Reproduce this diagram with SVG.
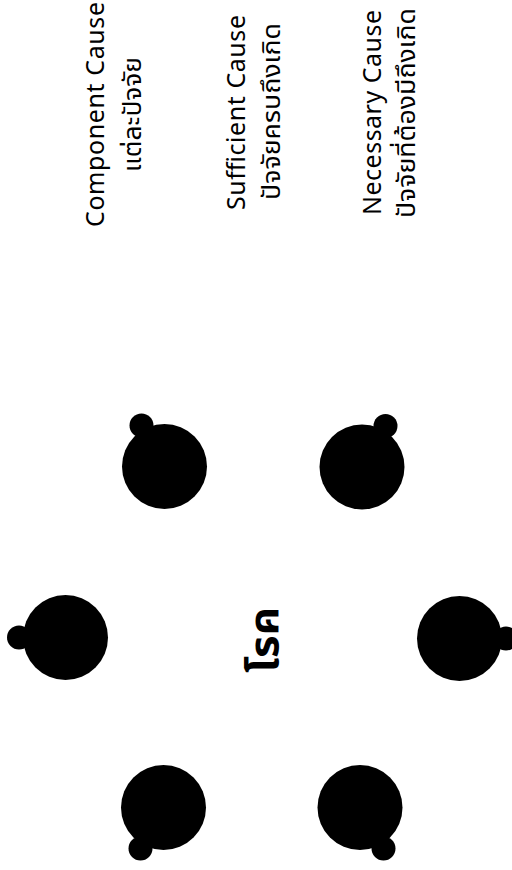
<svg xmlns="http://www.w3.org/2000/svg" width="512" height="870" viewBox="0 0 512 870">
<style>
.blob{fill:#000}
.lbl{font-family:"Noto Sans","Noto Sans Thai","Open Sans",sans-serif;font-size:25px;fill:#000;text-anchor:middle}
.core{font-family:"Noto Sans","Noto Sans Thai",sans-serif;font-size:41px;font-weight:bold;fill:#000;text-anchor:middle}
</style>
<rect width="512" height="870" fill="#fff"/>
<g transform="translate(0,870) rotate(-90)">
<g id="cause-top">
<circle class="blob" cx="232.5" cy="65.5" r="42.5"/><circle class="blob" cx="232.5" cy="19" r="12"/>
</g>
<g id="cause-top-right">
<circle class="blob" cx="403.5" cy="164.5" r="42.5"/><circle class="blob" cx="444.5" cy="141.5" r="12"/>
</g>
<g id="cause-bottom-right">
<circle class="blob" cx="403" cy="362" r="42.5"/><circle class="blob" cx="444" cy="385.5" r="12"/>
</g>
<g id="cause-bottom">
<circle class="blob" cx="231.5" cy="459.5" r="42.5"/><circle class="blob" cx="231.5" cy="506" r="12"/>
</g>
<g id="cause-bottom-left">
<circle class="blob" cx="62.5" cy="360" r="42.5"/><circle class="blob" cx="21.5" cy="383.5" r="12"/>
</g>
<g id="cause-top-left">
<circle class="blob" cx="62.5" cy="163.5" r="42.5"/><circle class="blob" cx="21.5" cy="140.5" r="12"/>
</g>
<g id="disease">
<text class="core" x="230" y="278" textLength="66" lengthAdjust="spacingAndGlyphs">โรค</text>
</g>
<g id="legend">
<text class="lbl" x="755.5" y="104" textLength="225" lengthAdjust="spacing">Component Cause</text>
<text class="lbl" x="755.5" y="141" textLength="115" lengthAdjust="spacingAndGlyphs">แต่ละปัจจัย</text>
<text class="lbl" x="757.5" y="245" textLength="195" lengthAdjust="spacing">Sufficient Cause</text>
<text class="lbl" x="758.5" y="280" textLength="177" lengthAdjust="spacingAndGlyphs">ปัจจัยครบถึงเกิด</text>
<text class="lbl" x="757.5" y="381" textLength="205" lengthAdjust="spacing">Necessary Cause</text>
<text class="lbl" x="757" y="415" textLength="210" lengthAdjust="spacingAndGlyphs">ปัจจัยที่ต้องมีถึงเกิด</text>
</g>
</g>
</svg>
